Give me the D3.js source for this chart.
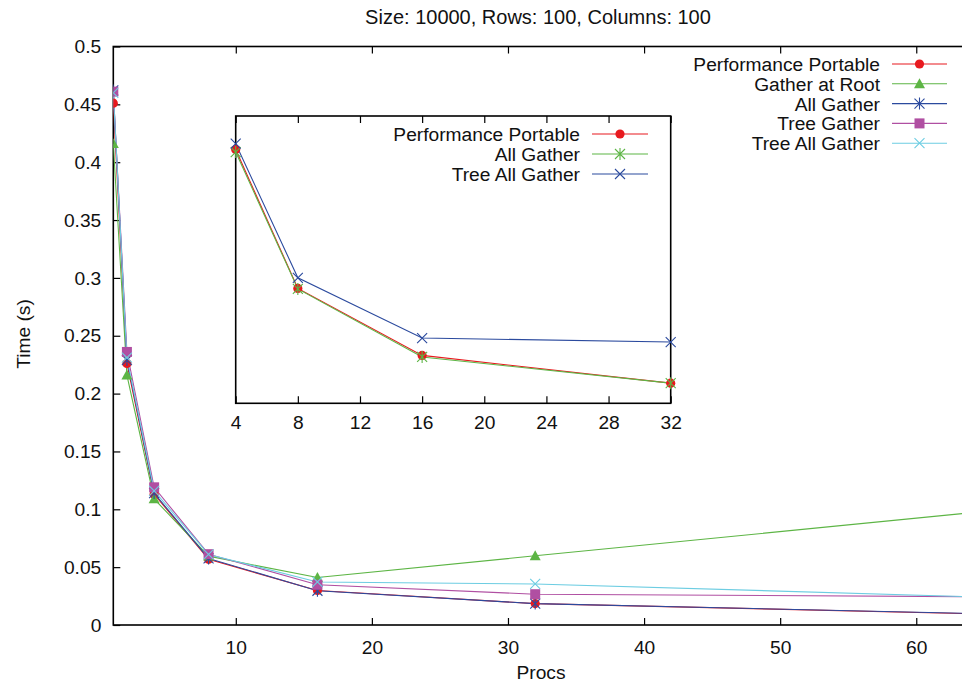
<!DOCTYPE html>
<html><head><meta charset="utf-8">
<script src="https://cdn.jsdelivr.net/npm/d3@7"></script>
<style>
html,body{margin:0;padding:0;background:#fff;}
svg{display:block;font-family:"Liberation Sans",Arial,Helvetica,sans-serif;}
</style></head>
<body>
<svg id="chart" width="962" height="684"></svg>
<script>
// ---- data ----
const procs = [1, 2, 4, 8, 16, 32, 64];
const performancePortable = [0.451, 0.226, 0.113, 0.0568, 0.0298, 0.0185, 0.0098];
const gatherAtRoot        = [0.416, 0.216, 0.109, 0.0595, 0.041, 0.0598, 0.097];
const allGather           = [0.462, 0.229, 0.114, 0.0575, 0.0296, 0.0185, 0.0100];
const treeGather          = [0.461, 0.236, 0.119, 0.0612, 0.0348, 0.0266, 0.0245];
const treeAllGather       = [0.460, 0.231, 0.116, 0.0610, 0.0372, 0.0355, 0.0244];

const insetProcs = [4, 8, 16, 32];
const insetPerformancePortable = [0.1117, 0.0566, 0.0300, 0.0190];
const insetAllGather           = [0.1107, 0.0564, 0.0294, 0.0190];
const insetTreeAllGather       = [0.1140, 0.0608, 0.0369, 0.0353];

const xTicks = [10, 20, 30, 40, 50, 60];
const yTicks = [0, 0.05, 0.1, 0.15, 0.2, 0.25, 0.3, 0.35, 0.4, 0.45, 0.5];
const insetXTicks = [4, 8, 12, 16, 20, 24, 28, 32];

const titleText = "Size: 10000, Rows: 100, Columns: 100";

const C = {red:"#e8191e", green:"#5db545", blue:"#2b4a9e", magenta:"#b04fa2", cyan:"#6dcde2"};

const mainSeries = [
  {name:"Performance Portable", values:performancePortable, color:C.red, marker:"circle"},
  {name:"Gather at Root", values:gatherAtRoot, color:C.green, marker:"triangle"},
  {name:"All Gather", values:allGather, color:C.blue, marker:"star"},
  {name:"Tree Gather", values:treeGather, color:C.magenta, marker:"square"},
  {name:"Tree All Gather", values:treeAllGather, color:C.cyan, marker:"cross"}
];
const insetSeries = [
  {name:"Performance Portable", values:insetPerformancePortable, color:C.red, marker:"circle"},
  {name:"All Gather", values:insetAllGather, color:C.green, marker:"star"},
  {name:"Tree All Gather", values:insetTreeAllGather, color:C.blue, marker:"cross"}
];

const svg = d3.select("#chart");
const FS = 19.2;

function drawMarker(g, type, x, y, color) {
  if (type === "circle") {
    g.append("circle").attr("cx", x).attr("cy", y).attr("r", 4.6).attr("fill", color);
  } else if (type === "triangle") {
    const s = 5.5;
    g.append("path").attr("d", `M${x},${y-s}L${x+s},${y+s*0.8}L${x-s},${y+s*0.8}Z`).attr("fill", color);
  } else if (type === "square") {
    g.append("rect").attr("x", x-5).attr("y", y-5).attr("width", 10).attr("height", 10).attr("fill", color);
  } else if (type === "cross") {
    const s = 5;
    g.append("path").attr("d", `M${x-s},${y-s}L${x+s},${y+s}M${x-s},${y+s}L${x+s},${y-s}`)
      .attr("stroke", color).attr("stroke-width", 1.1).attr("fill", "none");
  } else if (type === "star") {
    const s = 5;
    g.append("path").attr("d", `M${x-s},${y-s}L${x+s},${y+s}M${x-s},${y+s}L${x+s},${y-s}M${x},${y-s*1.2}L${x},${y+s*1.2}`)
      .attr("stroke", color).attr("stroke-width", 1.1).attr("fill", "none");
  }
}

// ---- main plot ----
const x = d3.scaleLinear().domain([1, 64]).range([113.3, 970.7]);
const y = d3.scaleLinear().domain([0, 0.5]).range([625, 46.5]);

svg.append("defs").append("clipPath").attr("id", "clipMain")
  .append("rect").attr("x", x.range()[0]).attr("y", y.range()[1])
  .attr("width", x.range()[1]-x.range()[0]).attr("height", y.range()[0]-y.range()[1]);

const xAxisB = d3.axisBottom(x).tickValues(xTicks).tickSize(-7).tickPadding(15).tickFormat(d3.format("d"));
const xAxisT = d3.axisTop(x).tickValues(xTicks).tickSize(-7).tickFormat("");
const yAxisL = d3.axisLeft(y).tickValues(yTicks).tickSize(-7).tickPadding(12).tickFormat(d => d === 0 ? "0" : String(+d.toFixed(2)));

function styleAxis(g) {
  g.select(".domain").remove();
  g.selectAll("line").attr("stroke", "#000").attr("stroke-width", 1.2);
  g.selectAll("text").attr("font-size", FS).attr("fill", "#111").attr("font-family", "Liberation Sans, Arial, sans-serif");
}
svg.append("g").attr("transform", `translate(0,${y.range()[0]})`).call(xAxisB).call(styleAxis);
svg.append("g").attr("transform", `translate(0,${y.range()[1]})`).call(xAxisT).call(styleAxis);
svg.append("g").attr("transform", `translate(${x.range()[0]},0)`).call(yAxisL).call(styleAxis);

svg.append("rect").attr("x", x.range()[0]).attr("y", y.range()[1])
  .attr("width", x.range()[1]-x.range()[0]).attr("height", y.range()[0]-y.range()[1])
  .attr("fill", "none").attr("stroke", "#000").attr("stroke-width", 1.6);

const plotG = svg.append("g").attr("clip-path", "url(#clipMain)");
const line = d3.line().x((d, i) => x(procs[i])).y(d => y(d));
mainSeries.forEach(s => {
  plotG.append("path").datum(s.values).attr("d", line)
    .attr("fill", "none").attr("stroke", s.color).attr("stroke-width", 1.1);
});
mainSeries.forEach(s => {
  s.values.forEach((v, i) => drawMarker(plotG, s.marker, x(procs[i]), y(v), s.color));
});

// titles
svg.append("text").attr("x", 538).attr("y", 24).attr("text-anchor", "middle")
  .attr("font-size", 20).attr("fill", "#111").text(titleText);
svg.append("text").attr("x", 541).attr("y", 679).attr("text-anchor", "middle")
  .attr("font-size", FS).attr("fill", "#111").text("Procs");
svg.append("text").attr("transform", "translate(30,334) rotate(-90)").attr("text-anchor", "middle")
  .attr("font-size", FS).attr("fill", "#111").text("Time (s)");

// main legend
const legG = svg.append("g");
mainSeries.forEach((s, i) => {
  const ly = 64 + i * 19.8;
  legG.append("text").attr("x", 880).attr("y", ly + 7).attr("text-anchor", "end")
    .attr("font-size", FS).attr("fill", "#111").text(s.name);
  legG.append("line").attr("x1", 892).attr("x2", 947).attr("y1", ly).attr("y2", ly)
    .attr("stroke", s.color).attr("stroke-width", 1.1);
  drawMarker(legG, s.marker, 919.5, ly, s.color);
});

// ---- inset ----
const xi = d3.scaleLinear().domain([4, 32]).range([235.7, 670.7]);
const yi = d3.scaleLinear().domain([0.011, 0.125]).range([403.3, 116]);

svg.append("rect").attr("x", xi.range()[0]).attr("y", yi.range()[1])
  .attr("width", xi.range()[1]-xi.range()[0]).attr("height", yi.range()[0]-yi.range()[1])
  .attr("fill", "#fff");

const xiB = d3.axisBottom(xi).tickValues(insetXTicks).tickSize(-7).tickPadding(12).tickFormat(d3.format("d"));
const xiT = d3.axisTop(xi).tickValues(insetXTicks).tickSize(-7).tickFormat("");
svg.append("g").attr("transform", `translate(0,${yi.range()[0]})`).call(xiB).call(styleAxis);
svg.append("g").attr("transform", `translate(0,${yi.range()[1]})`).call(xiT).call(styleAxis);

svg.append("rect").attr("x", xi.range()[0]).attr("y", yi.range()[1])
  .attr("width", xi.range()[1]-xi.range()[0]).attr("height", yi.range()[0]-yi.range()[1])
  .attr("fill", "none").attr("stroke", "#000").attr("stroke-width", 1.6);

const lineI = d3.line().x((d, i) => xi(insetProcs[i])).y(d => yi(d));
const insetG = svg.append("g");
insetSeries.forEach(s => {
  insetG.append("path").datum(s.values).attr("d", lineI)
    .attr("fill", "none").attr("stroke", s.color).attr("stroke-width", 1.1);
});
insetSeries.forEach(s => {
  s.values.forEach((v, i) => drawMarker(insetG, s.marker, xi(insetProcs[i]), yi(v), s.color));
});

const legI = svg.append("g");
insetSeries.forEach((s, i) => {
  const ly = 134 + i * 20;
  legI.append("text").attr("x", 580).attr("y", ly + 7).attr("text-anchor", "end")
    .attr("font-size", FS).attr("fill", "#111").text(s.name);
  legI.append("line").attr("x1", 592).attr("x2", 648).attr("y1", ly).attr("y2", ly)
    .attr("stroke", s.color).attr("stroke-width", 1.1);
  drawMarker(legI, s.marker, 620, ly, s.color);
});
</script>
</body></html>
